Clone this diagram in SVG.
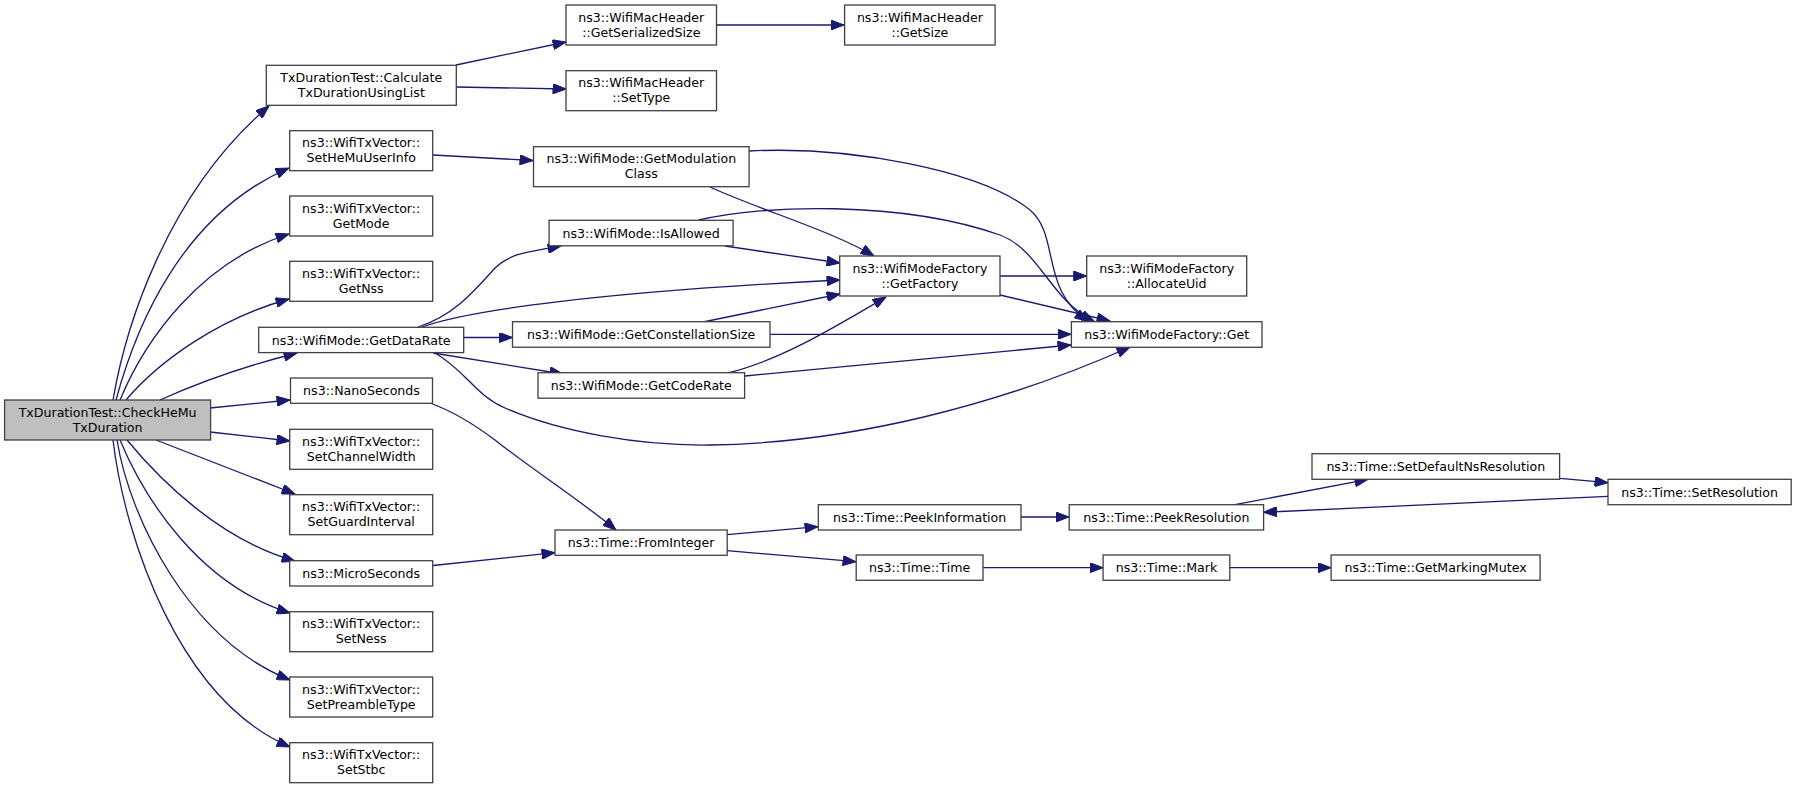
<svg xmlns="http://www.w3.org/2000/svg" width="1797" height="788" viewBox="0 0 1797 788">
<style>
.n rect{fill:#ffffff;stroke:#404040;stroke-width:1.3}
.root rect{fill:#bfbfbf}
text{font-family:"DejaVu Sans","Liberation Sans",sans-serif;font-size:12.6px;fill:#000;text-anchor:middle}
.e path{fill:none;stroke:#191970;stroke-width:1.3;marker-end:url(#ah)}
</style>
<defs>
<marker id="ah" markerUnits="userSpaceOnUse" markerWidth="14" markerHeight="10" viewBox="0 0 13 10" refX="13" refY="5" orient="auto">
<path d="M0,0 L13,5 L0,10 z" fill="#191970" stroke="#191970" stroke-width="1"/>
</marker>
</defs>
<rect x="0" y="0" width="1797" height="788" fill="#ffffff"/>
<g class="e" id="edges">
<path d="M113,400 C125,330 165,195 269,106"/>
<path d="M116,400 C135,330 180,215 289,168"/>
<path d="M120,400 C145,340 200,262 289,234"/>
<path d="M126,400 C160,360 220,318 289,299"/>
<path d="M160,400 C200,382 245,366 297,353"/>
<path d="M210,408 L290,400"/>
<path d="M210,432 L290,441"/>
<path d="M156,440 L295,494"/>
<path d="M127,440 C160,480 220,540 295,561"/>
<path d="M120,440 C145,500 200,585 290,613"/>
<path d="M117,440 C130,520 190,640 290,680"/>
<path d="M113,440 C125,540 180,700 290,747"/>
<path d="M456,65 L566,42"/>
<path d="M456,87 L566,89"/>
<path d="M716,25 L844,25"/>
<path d="M433,155 L533,160.5"/>
<path d="M710,187 C760,210 830,230 874,256"/>
<path d="M749,151 C850,146 980,170 1030,210 C1060,235 1040,290 1088,321"/>
<path d="M699,220 C760,205 900,200 1000,235 C1040,250 1050,300 1094,321"/>
<path d="M418,327 C455,315 475,290 495,268 C512,252 530,252 561,246"/>
<path d="M422,327 C470,310 600,292 840,280"/>
<path d="M464,337.5 L512.5,337.5"/>
<path d="M433,353 L563,374"/>
<path d="M435,353 C465,370 475,395 505,408 C560,432 640,446 710,445 C850,443 1000,405 1130,347"/>
<path d="M725,246 L840,263"/>
<path d="M703,322 L840,294"/>
<path d="M728,373 C780,360 830,330 886,297"/>
<path d="M745,376 L1071,345"/>
<path d="M770,334.3 L1071,334.3"/>
<path d="M1000,276 L1086.7,276"/>
<path d="M1000,295 L1110,321"/>
<path d="M430,403 C455,412 475,425 495,440 C530,468 580,500 616,530"/>
<path d="M433,565.5 L555,552.7"/>
<path d="M727,534.7 L818,526.7"/>
<path d="M727,550.7 L856,561.7"/>
<path d="M1021,517 L1069,517"/>
<path d="M983,567.7 L1103,567.7"/>
<path d="M1230,567.7 L1331,567.7"/>
<path d="M1235,504.7 L1368,479.3"/>
<path d="M1560,478.3 L1608,482.7"/>
<path d="M1608,496.3 L1263.6,512.3"/>
</g>
<g id="n_checkhemu" class="n root"><rect x="4.6" y="400" width="206" height="40"/><text x="107.6" y="416.7">TxDurationTest::CheckHeMu</text><text x="107.6" y="431.7">TxDuration</text></g>
<g id="n_calc" class="n"><rect x="266.3" y="65.3" width="190" height="40"/><text x="361.3" y="82">TxDurationTest::Calculate</text><text x="361.3" y="97">TxDurationUsingList</text></g>
<g id="n_sethemu" class="n"><rect x="289.7" y="130.7" width="143" height="40"/><text x="361.2" y="147.4">ns3::WifiTxVector::</text><text x="361.2" y="162.4">SetHeMuUserInfo</text></g>
<g id="n_getmode" class="n"><rect x="289.7" y="196" width="143" height="40"/><text x="361.2" y="212.7">ns3::WifiTxVector::</text><text x="361.2" y="227.7">GetMode</text></g>
<g id="n_getnss" class="n"><rect x="289.7" y="261.3" width="143" height="40"/><text x="361.2" y="278">ns3::WifiTxVector::</text><text x="361.2" y="293">GetNss</text></g>
<g id="n_getdatarate" class="n"><rect x="258.7" y="327.3" width="205" height="25.3"/><text x="361.2" y="344.5">ns3::WifiMode::GetDataRate</text></g>
<g id="n_nano" class="n"><rect x="290.5" y="378" width="142" height="25.3"/><text x="361.5" y="395.2">ns3::NanoSeconds</text></g>
<g id="n_setchw" class="n"><rect x="289.7" y="429.3" width="143" height="40"/><text x="361.2" y="446">ns3::WifiTxVector::</text><text x="361.2" y="461">SetChannelWidth</text></g>
<g id="n_setgi" class="n"><rect x="289.7" y="494.7" width="143" height="40"/><text x="361.2" y="511.4">ns3::WifiTxVector::</text><text x="361.2" y="526.4">SetGuardInterval</text></g>
<g id="n_micro" class="n"><rect x="289.7" y="560.7" width="143" height="25.3"/><text x="361.2" y="577.9">ns3::MicroSeconds</text></g>
<g id="n_setness" class="n"><rect x="289.7" y="611.7" width="143" height="40"/><text x="361.2" y="628.4">ns3::WifiTxVector::</text><text x="361.2" y="643.4">SetNess</text></g>
<g id="n_setpre" class="n"><rect x="289.7" y="677" width="143" height="40"/><text x="361.2" y="693.7">ns3::WifiTxVector::</text><text x="361.2" y="708.7">SetPreambleType</text></g>
<g id="n_setstbc" class="n"><rect x="289.7" y="742.7" width="143" height="40"/><text x="361.2" y="759.4">ns3::WifiTxVector::</text><text x="361.2" y="774.4">SetStbc</text></g>
<g id="n_getser" class="n"><rect x="566" y="5" width="150.5" height="40"/><text x="641.3" y="21.7">ns3::WifiMacHeader</text><text x="641.3" y="36.7">::GetSerializedSize</text></g>
<g id="n_settype" class="n"><rect x="566" y="70.7" width="150.5" height="40"/><text x="641.3" y="87.4">ns3::WifiMacHeader</text><text x="641.3" y="102.4">::SetType</text></g>
<g id="n_getsize" class="n"><rect x="844.6" y="5" width="150.5" height="40"/><text x="919.9" y="21.7">ns3::WifiMacHeader</text><text x="919.9" y="36.7">::GetSize</text></g>
<g id="n_getmod" class="n"><rect x="533.5" y="146.7" width="215.6" height="40"/><text x="641.3" y="163.4">ns3::WifiMode::GetModulation</text><text x="641.3" y="178.4">Class</text></g>
<g id="n_isallowed" class="n"><rect x="549.1" y="220.3" width="184" height="25.5"/><text x="641.1" y="237.6">ns3::WifiMode::IsAllowed</text></g>
<g id="n_getconst" class="n"><rect x="512.5" y="321.7" width="257.5" height="25.5"/><text x="641.2" y="339">ns3::WifiMode::GetConstellationSize</text></g>
<g id="n_getcoderate" class="n"><rect x="538" y="372.7" width="206.6" height="25.5"/><text x="641.3" y="390">ns3::WifiMode::GetCodeRate</text></g>
<g id="n_frominteger" class="n"><rect x="555" y="530" width="172.2" height="25.3"/><text x="641.1" y="547.2">ns3::Time::FromInteger</text></g>
<g id="n_getfactory" class="n"><rect x="839.7" y="256" width="160.3" height="40"/><text x="919.9" y="272.7">ns3::WifiModeFactory</text><text x="919.9" y="287.7">::GetFactory</text></g>
<g id="n_peekinfo" class="n"><rect x="818.3" y="504.7" width="202.7" height="25.3"/><text x="919.7" y="521.9">ns3::Time::PeekInformation</text></g>
<g id="n_time" class="n"><rect x="856.2" y="555" width="126.8" height="25.3"/><text x="919.6" y="572.2">ns3::Time::Time</text></g>
<g id="n_allocuid" class="n"><rect x="1086.7" y="256" width="160" height="40"/><text x="1166.7" y="272.7">ns3::WifiModeFactory</text><text x="1166.7" y="287.7">::AllocateUid</text></g>
<g id="n_get" class="n"><rect x="1071.4" y="321.7" width="190.6" height="25.6"/><text x="1166.7" y="339">ns3::WifiModeFactory::Get</text></g>
<g id="n_peekres" class="n"><rect x="1069.2" y="504.7" width="194.4" height="25.3"/><text x="1166.4" y="521.9">ns3::Time::PeekResolution</text></g>
<g id="n_mark" class="n"><rect x="1103.1" y="555" width="126.7" height="25.3"/><text x="1166.5" y="572.2">ns3::Time::Mark</text></g>
<g id="n_setdefns" class="n"><rect x="1312" y="453.7" width="247.6" height="25.6"/><text x="1435.8" y="471">ns3::Time::SetDefaultNsResolution</text></g>
<g id="n_getmarking" class="n"><rect x="1331.1" y="555" width="209" height="25.3"/><text x="1435.6" y="572.2">ns3::Time::GetMarkingMutex</text></g>
<g id="n_setres" class="n"><rect x="1608" y="479.3" width="183.2" height="25.4"/><text x="1699.6" y="496.6">ns3::Time::SetResolution</text></g>
</svg>
